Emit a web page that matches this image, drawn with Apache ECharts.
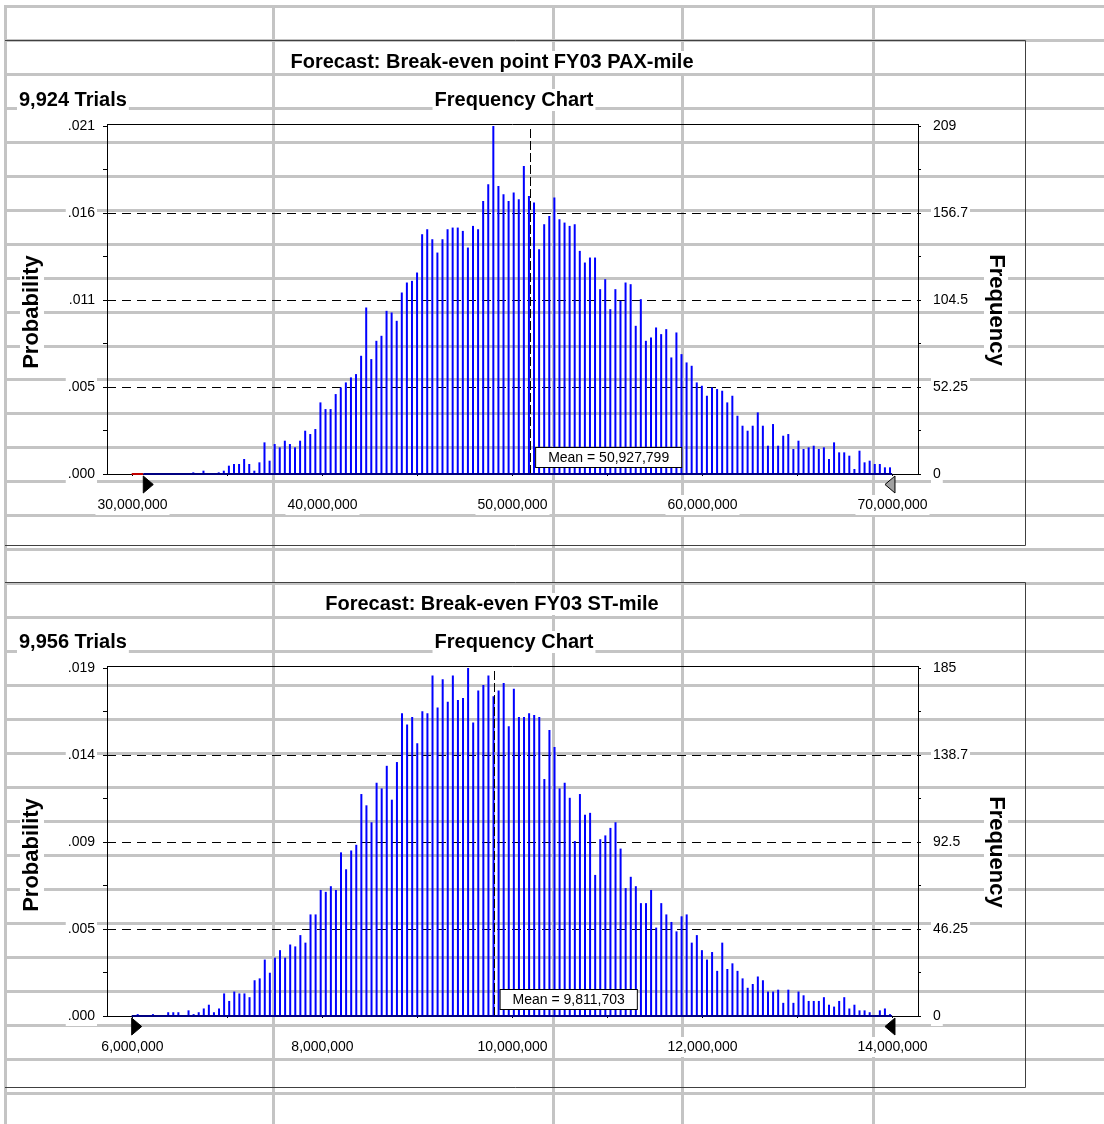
<!DOCTYPE html>
<html><head><meta charset="utf-8">
<script src="https://cdn.jsdelivr.net/npm/echarts@6/dist/echarts.min.js"></script>
<style>
html,body{margin:0;padding:0;background:#fff;}
#wrap{position:relative;width:1104px;height:1124px;overflow:hidden;background:#fff;}
#sheet,#chart{position:absolute;left:0;top:0;width:1104px;height:1124px;}
.hl{position:absolute;left:4px;right:0;height:3px;background:#c4c4c4;}
.vl{position:absolute;top:5px;bottom:0;width:3px;background:#c4c4c4;}
</style></head>
<body><div id="wrap"><div id="sheet"></div><div id="chart"></div></div>
<script>
// ---------------- data ----------------
const topTitle = 'Forecast: Break-even point FY03 PAX-mile';
const botTitle = 'Forecast: Break-even FY03 ST-mile';
const topTrials = 9924;
const botTrials = 9956;
const topMean = 50927799;
const botMean = 9811703;

// histogram bins (bin centre of first bar, bin width)
const topBinStart = 33200000, topBinWidth = 267650;
const botBinStart = 6054740, botBinWidth = 53506;

const topFreq = [1,0,2,0,0,1,2,5,6,6,9,6,2,7,
19,8,18,16,20,18,16,20,26,24,27,
43,39,39,48,52,55,58,60,71,100,
69,80,83,98,97,92,109,115,116,121,
144,147,141,133,141,147,148,148,146,136,
149,147,164,174,209,173,168,164,169,165,
185,167,163,135,150,155,166,153,151,149,
150,134,127,130,130,111,117,99,111,104,
115,114,89,105,80,82,88,84,87,70,
85,72,67,65,55,53,47,52,51,50,
43,47,35,29,26,29,37,29,17,30,
17,23,24,15,20,15,16,17,15,16,
9,19,13,13,11,3,14,7,8,6,
6,4,4];

const botFreq = [1,0,0,1,0,0,2,2,2,0,3,1,2,4,6,2,4,12,8,13,12,12,10,
19,20,30,23,31,35,31,38,37,43,39,
54,54,67,66,69,67,87,78,88,91,
118,112,103,124,121,133,115,135,161,155,
159,145,162,161,181,164,179,167,181,168,
169,185,156,173,176,181,170,173,177,154,
174,159,159,161,160,159,126,152,143,121,
124,116,93,118,107,108,75,94,96,100,
103,89,68,74,69,60,60,67,47,60,
54,50,45,53,54,39,43,35,30,34,
24,39,25,28,24,20,15,17,21,19,
13,13,14,7,14,7,13,11,8,8,
8,10,6,5,8,10,4,6,3,3,2,0,3,4,1];

// axes
const topXRange = [28658000, 71342000];
const botXRange = [5731600, 14268400];
const topXLabelValues = [30000000, 40000000, 50000000, 60000000, 70000000];
const topXLabels = ['30,000,000','40,000,000','50,000,000','60,000,000','70,000,000'];
const topXTickValues = [30000000,35000000,40000000,45000000,50000000,55000000,60000000,65000000,70000000];
const botXLabelValues = [6000000, 8000000, 10000000, 12000000, 14000000];
const botXLabels = ['6,000,000','8,000,000','10,000,000','12,000,000','14,000,000'];
const botXTickValues = [6000000,7000000,8000000,9000000,10000000,11000000,12000000,13000000,14000000];

const topFreqMax = 209, topFreqStep = 52.25;
const topProbLabels = ['.000','.005','.011','.016','.021'];
const topFreqLabels = ['0','52.25','104.5','156.7','209'];
const botFreqMax = 185, botFreqStep = 46.25;
const botProbLabels = ['.000','.005','.009','.014','.019'];
const botFreqLabels = ['0','46.25','92.5','138.7','185'];

// certainty grabbers (left, right) and excluded range marker
const topGrabbers = [30568000, 70130000];
const botGrabbers = [5991600, 14026000];
const topExcluded = [29958000, 30568000];

// ---------------- spreadsheet grid ----------------
const sheet = document.getElementById('sheet');
const rowPitch = 33.97, rowFirst = 6.3;
for (let k = 0; k <= 32; k++) {
  const d = document.createElement('div'); d.className = 'hl';
  d.style.top = (rowFirst + k * rowPitch - 1.5) + 'px'; sheet.appendChild(d);
}
[5, 273.5, 553.5, 682, 873].forEach(x => {
  const d = document.createElement('div'); d.className = 'vl';
  d.style.left = (x - 1.5) + 'px'; sheet.appendChild(d);
});

// ---------------- chart ----------------
const FONT = "'Liberation Sans', Arial, sans-serif";
const chart = echarts.init(document.getElementById('chart'), null, {renderer: 'canvas'});

const grids = [
  {left: 107, top: 126, width: 811, height: 348},
  {left: 107, top: 668, width: 811, height: 348}
];

function xAxisCfg(gi, range, tickVals, labVals, labs) {
  return {
    gridIndex: gi, type: 'value', min: range[0], max: range[1],
    axisLine: {show: true, onZero: false, lineStyle: {color: '#000', width: 1}},
    axisTick: {show: true, length: 2, customValues: tickVals, lineStyle: {color: '#000'}},
    axisLabel: {
      customValues: labVals, margin: 21, color: '#000', fontFamily: FONT, fontSize: 14,
      backgroundColor: '#fff', padding: [3, 2, 3, 2],
      formatter: v => labs[labVals.indexOf(v)] ?? ''
    },
    splitLine: {show: false}
  };
}
function yAxisCfg(gi, pos, max, step, labs) {
  const left = pos === 'left';
  return {
    gridIndex: gi, type: 'value', position: pos, min: 0, max: max, interval: step,
    axisLine: {show: true, lineStyle: {color: '#000', width: 1}},
    axisTick: {show: true, length: left ? 4 : 3, lineStyle: {color: '#000'}},
    minorTick: {show: true, splitNumber: 2, length: left ? 4 : 3, lineStyle: {color: '#000'}},
    axisLabel: {
      margin: left ? 10 : 13, color: '#000', fontFamily: FONT, fontSize: 14,
      backgroundColor: '#fff', padding: [3, 2, 3, 2],
      formatter: v => labs[Math.round(v / step)]
    },
    splitLine: left ? {show: true, showMinLine: false, showMaxLine: false,
      lineStyle: {color: '#000', width: 1, type: [9, 6]}} : {show: false}
  };
}

function barSeries(gi, freq, start, width, mean, extraLines) {
  const data = freq.map((f, i) => [start + i * width, f]);
  const ml = [{xAxis: mean, lineStyle: {color: '#000', width: 1, type: [9, 3]}}].concat(extraLines);
  return {
    type: 'bar', xAxisIndex: gi, yAxisIndex: gi * 2, data: data,
    barWidth: 2, itemStyle: {color: '#0000ff'}, silent: true, animation: false,
    markLine: {symbol: 'none', silent: true, animation: false, label: {show: false}, data: ml}
  };
}

chart.setOption({
  animation: false,
  backgroundColor: 'transparent',
  grid: grids,
  xAxis: [
    xAxisCfg(0, topXRange, topXTickValues, topXLabelValues, topXLabels),
    xAxisCfg(1, botXRange, botXTickValues, botXLabelValues, botXLabels)
  ],
  yAxis: [
    yAxisCfg(0, 'left', topFreqMax, topFreqStep, topProbLabels),
    yAxisCfg(0, 'right', topFreqMax, topFreqStep, topFreqLabels),
    yAxisCfg(1, 'left', botFreqMax, botFreqStep, botProbLabels),
    yAxisCfg(1, 'right', botFreqMax, botFreqStep, botFreqLabels)
  ],
  series: [
    barSeries(0, topFreq, topBinStart, topBinWidth, topMean, [
      [{coord: [topExcluded[0], 0], lineStyle: {color: '#c00000', width: 2, type: 'solid'}}, {coord: [topExcluded[1], 0]}],
      [{coord: [topGrabbers[0], 0], lineStyle: {color: '#000080', width: 2, type: 'solid'}}, {coord: [topGrabbers[1] - 150000, 0]}]
    ]),
    barSeries(1, botFreq, botBinStart, botBinWidth, botMean, [
      [{coord: [botGrabbers[0], 0], lineStyle: {color: '#000080', width: 2, type: 'solid'}}, {coord: [botGrabbers[1] - 30000, 0]}]
    ])
  ]
});

// ---------------- decorations (texts, frames, grabbers, mean box) ----------------
const fmt = n => n.toString().replace(/\B(?=(\d{3})+(?!\d))/g, ',');
function px(axisIdx, v) { return chart.convertToPixel({xAxisIndex: axisIdx}, v); }
function py(axisIdx, v) { return chart.convertToPixel({yAxisIndex: axisIdx}, v); }

function txt(text, x, y, opt) {
  opt = opt || {};
  return {
    type: 'text', x: x, y: y, rotation: opt.rot || 0, z: opt.z || 5, silent: true,
    style: {
      text: text, font: (opt.bold === false ? '' : 'bold ') + (opt.size || 20) + 'px ' + FONT,
      fill: '#000', align: opt.align || 'center', verticalAlign: 'middle',
      backgroundColor: '#fff', padding: opt.pad || [1, 2],
      borderColor: opt.border || null, borderWidth: opt.border ? 1 : 0
    }
  };
}
function tri(x, y, dir, fill) {
  const w = 10, h = 17;
  const pts = dir > 0 ? [[x, y], [x + w, y + h / 2], [x, y + h]] : [[x, y], [x - w, y + h / 2], [x, y + h]];
  return {type: 'polygon', silent: true, z: 6, shape: {points: pts}, style: {fill: fill, stroke: '#000', lineWidth: 1}};
}
function line(x1, y1, x2, y2, color) {
  return {type: 'line', silent: true, z: 1, shape: {x1, y1, x2, y2}, style: {stroke: color, lineWidth: 1}};
}

function panel(gi, dy, title, trials, mean, grabbers, probY, freqY) {
  const base = py(gi * 2, 0);
  const g = grids[gi];
  const els = [];
  // frame (top, right, bottom)
  els.push({type: 'polyline', silent: true, z: 1, shape: {points: [[5, 40.5 + dy], [1025.5, 40.5 + dy], [1025.5, 545.5 + dy], [5, 545.5 + dy]]}, style: {stroke: '#404040', lineWidth: 1, fill: null}});
  // plot box top border
  els.push(line(g.left, g.top - 2 + 0.5, g.left + g.width, g.top - 2 + 0.5, '#000'));
  els.push(line(g.left + 0.5, g.top - 2, g.left + 0.5, g.top, '#000'));
  els.push(line(g.left + g.width + 0.5, g.top - 2, g.left + g.width + 0.5, g.top, '#000'));
  els.push(txt(title, 492, 62 + dy));
  els.push(txt(fmt(trials) + ' Trials', 17, 100 + dy, {align: 'left'}));
  els.push(txt('Frequency Chart', 514, 100 + dy));
  els.push(txt('Probability', 32, probY, {rot: Math.PI / 2, size: 22}));
  els.push(txt('Frequency', 996, freqY, {rot: -Math.PI / 2, size: 22}));
  // grabbers
  els.push(tri(px(gi, grabbers[0]), base + 2, 1, '#000'));
  els.push(tri(px(gi, grabbers[1]), base + 2, -1, gi === 0 ? '#a0a0a0' : '#000'));
  // mean box
  const mx = px(gi, mean);
  els.push({
    type: 'text', x: mx + 6, y: base - 7, z: 10, silent: true,
    style: {
      text: 'Mean = ' + fmt(mean), font: '14px ' + FONT, fill: '#000',
      align: 'left', verticalAlign: 'bottom', backgroundColor: '#fff',
      borderColor: '#000', borderWidth: 1, padding: [3, 12, 2, 12]
    }
  });
  return els;
}

const graphics = [].concat(
  panel(0, 0, topTitle, topTrials, topMean, topGrabbers, 312, 310),
  panel(1, 542, botTitle, botTrials, botMean, botGrabbers, 855, 852)
);
chart.setOption({graphic: graphics});
</script>
</body></html>
